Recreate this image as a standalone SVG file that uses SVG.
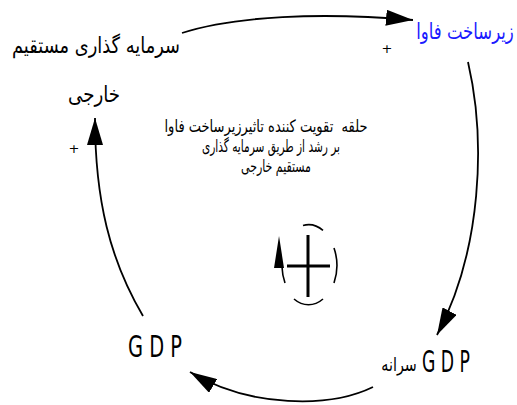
<svg xmlns="http://www.w3.org/2000/svg" width="517" height="405" viewBox="0 0 517 405">
<style>
.fa{font-family:"DejaVu Sans","Noto Sans",sans-serif;fill:#000;}
.lat{font-family:"DejaVu Sans Condensed","DejaVu Sans",sans-serif;fill:#000;}
.link{fill:none;stroke:#000;stroke-width:1.8;}
.sym{fill:none;stroke:#000;stroke-width:1.6;}
.pl{font-family:"DejaVu Sans",sans-serif;font-size:13px;fill:#000;}
</style>
<defs>
<marker id="ah" viewBox="0 0 27 16" refX="27" refY="8" markerWidth="27" markerHeight="16" markerUnits="userSpaceOnUse" orient="auto">
<path d="M0,0 L27,8 L0,16 z" fill="#000"/>
</marker>
</defs>
<rect width="517" height="405" fill="#fff"/>
<g id="connectors">
<path class="link" d="M182,33 C235,16 320,12 413,20" marker-end="url(#ah)"/>
<path class="link" d="M468,62 C486,140 482,250 437,335" marker-end="url(#ah)"/>
<path class="link" d="M373,387 C330,408 250,408 190,372" marker-end="url(#ah)"/>
<path class="link" d="M143,316 C110,260 95,200 95,118" marker-end="url(#ah)"/>
<text class="pl" x="387" y="53" text-anchor="middle">+</text>
<text class="pl" x="74" y="153" text-anchor="middle">+</text>
</g>
<g id="node-fdi">
<text class="fa" x="96" y="53" font-size="22" text-anchor="middle" textLength="168" lengthAdjust="spacingAndGlyphs">سرمایه گذاری مستقیم</text>
<text class="fa" x="94" y="102" font-size="22" text-anchor="middle" textLength="52" lengthAdjust="spacingAndGlyphs">خارجی</text>
</g>
<g id="node-ict" transform="translate(465,39) scale(0.75,1)">
<text class="fa" x="0" y="0" font-size="22" text-anchor="middle" style="fill:#1a1aff">زیرساخت فاوا</text>
</g>
<g id="node-gdppc">
<g transform="translate(399,371) scale(0.75,1)">
<text class="fa" x="0" y="0" font-size="19" text-anchor="middle">سرانه</text>
</g>
<g transform="translate(446,372) scale(0.64,1)">
<text class="lat" x="0" y="0" font-size="30" text-anchor="middle">G D P</text>
</g>
</g>
<g id="node-gdp">
<text class="lat" x="155" y="357" font-size="30" text-anchor="middle" textLength="54" lengthAdjust="spacingAndGlyphs">G D P</text>
</g>
<g id="loop-label">
<text class="fa" x="266" y="132" font-size="17" text-anchor="middle" textLength="203" lengthAdjust="spacingAndGlyphs" style="white-space:pre">حلقه  تقویت کننده تاثیرزیرساخت فاوا</text>
<text class="fa" x="271" y="152" font-size="17" text-anchor="middle" textLength="138" lengthAdjust="spacingAndGlyphs">بر رشد از طریق سرمایه گذاری</text>
<text class="fa" x="276" y="172" font-size="17" text-anchor="middle" textLength="70" lengthAdjust="spacingAndGlyphs">مستقیم خارجی</text>
</g>
<g id="loop-symbol">
<path class="sym" d="M303,225.5 A28,40 0 0 1 323,230.4"/>
<path class="sym" d="M334,248 A28,40 0 0 1 334,283"/>
<path class="sym" d="M323,299 A28,40 0 0 1 294,299"/>
<path class="sym" d="M282,267 A28,40 0 0 0 285,283"/>
<polygon points="279,236 274,268 284,268" fill="#000"/>
<path d="M287,266 H330 M308,235 V297" stroke="#000" stroke-width="3" fill="none"/>
</g>
</svg>
